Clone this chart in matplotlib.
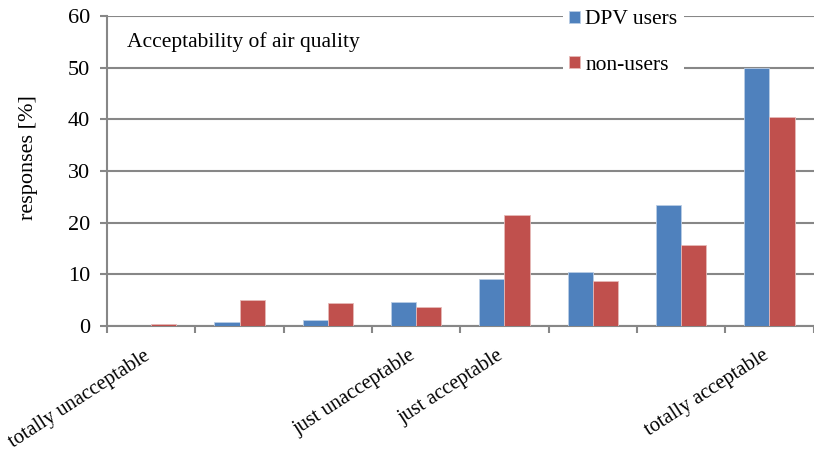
import numpy as np
import matplotlib.pyplot as plt
from matplotlib.ticker import FixedLocator

plt.rcParams.update({'font.family': 'Liberation Serif', 'font.size': 15.5})

categories = ['totally unacceptable', '', '', 'just unacceptable',
              'just acceptable', '', '', 'totally acceptable']
dpv_users = [0.0, 0.8, 1.1, 4.6, 9.1, 10.4, 23.4, 50.0]
non_users = [0.4, 5.0, 4.5, 3.7, 21.5, 8.7, 15.7, 40.5]
yticks = [0, 10, 20, 30, 40, 50, 60]

C = {'dpv': '#4F81BD', 'non': '#C0504D', 'grid': '#878787'}

fig = plt.figure(figsize=(8.14, 4.51), dpi=100)
ax = fig.add_axes([0.1315, 0.277, 0.868, 0.6875])

x = np.arange(len(categories))
w = 0.285
ax.bar(x - w / 2, dpv_users, w, color=C['dpv'], edgecolor='#B9CDE5', lw=0.6,
       label='DPV users', zorder=3)
ax.bar(x + w / 2, non_users, w, color=C['non'], edgecolor='#E6B9B8', lw=0.6,
       label='non-users', zorder=3)

ax.set_xlim(-0.5, len(categories) - 0.5)
ax.set_ylim(0, 60)
ax.set_yticks(yticks)
ax.yaxis.grid(True, color=C['grid'], lw=1.5, zorder=0)
ax.set_axisbelow(True)

# boundary ticks, labels at category centres
ax.xaxis.set_major_locator(FixedLocator(np.arange(-0.5, len(categories), 1.0)))
ax.xaxis.set_minor_locator(FixedLocator(x))
ax.set_xticklabels([], minor=False)
ax.set_xticklabels(categories, minor=True, rotation=33, ha='right', va='baseline',
                   rotation_mode='anchor', fontsize=14.8)
ax.tick_params(axis='x', which='major', length=5, width=1.5, color=C['grid'], direction='out')
ax.tick_params(axis='x', which='minor', length=0, pad=23)
ax.tick_params(axis='y', length=5, width=1.5, color=C['grid'], direction='out', pad=7,
               labelsize=16)

for s in ['top', 'right']:
    ax.spines[s].set_visible(False)
for s in ['left', 'bottom']:
    ax.spines[s].set_color(C['grid'])
    ax.spines[s].set_linewidth(1.5)

ax.set_ylabel('responses [%]', fontsize=16)
ax.yaxis.set_label_coords(-0.098, 0.545)

ax.text(0.028, 0.915, 'Acceptability of air quality', transform=ax.transAxes,
        fontsize=15.5, va='center', ha='left')

leg = ax.legend(loc='upper left', bbox_to_anchor=(0.645, 1.039), frameon=True,
                fancybox=False, framealpha=1, edgecolor='none', facecolor='white',
                handlelength=0.5, handleheight=0.5, handletextpad=0.25,
                labelspacing=1.23, borderpad=0.3, borderaxespad=0, fontsize=15.5)

plt.savefig('out.png', dpi=100, facecolor='white')
plt.close()
